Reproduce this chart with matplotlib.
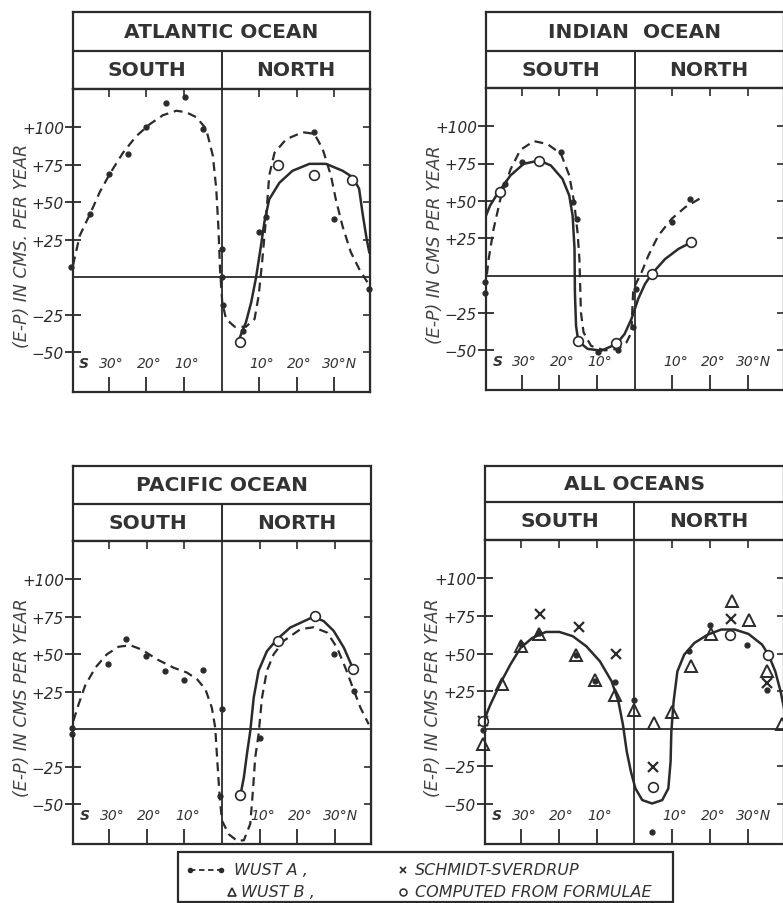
import matplotlib.pyplot as plt
from matplotlib.lines import Line2D
from matplotlib.patches import Rectangle

plt.rcParams['font.family'] = ['DejaVu Sans']

# ---- data (latitude: south negative, E-P in cm/yr) ----
# Atlantic
atl_a_curve_lat = [-39.5, -37.7, -35, -32.4, -29.7, -26.2, -22.7, -19.1, -15.6, -12, -9.4,
                   -6.7, -4.1, -2.3, -1.4, -0.8, -0.4, 0.2, 1.2, 3.5, 6.5, 8.8, 9.9, 10.8,
                   11.9, 12.7, 14.1, 17.2, 21.6, 24.7, 26.9, 29.1, 30.4, 32.2, 34.4, 36.6, 38.8]
atl_a_curve_val = [8, 27.8, 42, 56.7, 69, 83, 94, 102, 108, 111, 110,
                   106.7, 99, 81, 59, 32, 5.6, -16.7, -27.8, -33, -33, -27.8, -12, 10,
                   41, 68, 83, 92, 96.7, 95.6, 85.6, 67.8, 52, 34, 16.7, 5.6, -3.3]
atl_a_pts_lat = [-39.9, -34.9, -29.9, -24.9, -20, -14.7, -9.8, -5, 0, 0, 0.35, 5.7, 10,
                 11.9, 24.7, 30, 39.3]
atl_a_pts_val = [6.7, 42, 69, 82, 100, 116, 120, 99, 19, 0, -18.4, -35.6, 30,
                 40, 96.7, 39, -8]
atl_c_curve_lat = [4.9, 6.5, 7.9, 9.2, 10.5, 11.4, 12.7, 15.4, 18.9, 23.4, 27.8, 32.2,
                   34.9, 36.6, 37.5, 38.6, 39.3]
atl_c_curve_val = [-40, -30, -16.7, 0, 21, 36.7, 52, 63, 71, 75.6, 75.6, 71,
                   66.7, 59, 43, 25.6, 16.7]
atl_c_pts_lat = [5, 15, 24.7, 34.7]
atl_c_pts_val = [-43.3, 75, 68, 65]

# Indian
ind_a_curve_lat = [-39.7, -38.8, -37.5, -35.7, -33, -30.4, -26.8, -23.2, -19.6, -17.4, -16.1,
                   -15.2, -14.7, -14.5, -14.3, -13.6, -11.6, -8, -4.5, -2.2, -0.9, -0.7,
                   -0.4, 1.8, 3.6, 6.25, 9.8, 13.4, 17.9]
ind_a_curve_val = [-9, 11, 31, 51, 71, 84, 90, 88, 81.5, 67, 49,
                   29, 11, -6.7, -24.6, -38, -47, -50, -49, -44.6, -38, -25,
                   -9, 2.2, 13.4, 26.8, 38, 45.8, 52.5]
ind_a_pts_lat = [-39.7, -39.7, -34.4, -29.9, -19.6, -16.3, -15.4, -9.8, -4.5, -0.6, 0.4,
                 9.8, 14.7]
ind_a_pts_val = [-11.6, -4.5, 61, 76, 82.6, 49, 38, -51, -50, -34.6, -9, 35.7, 51]
ind_c_curve_lat = [-40.2, -38.4, -36.2, -33, -29.5, -25.4, -22.3, -19.2, -17.4, -16.5, -16,
                   -15.9, -15.6, -15, -12.5, -8.9, -4.9, -2.7, -0.9, 0.9, 2.7, 4.5, 8,
                   11.6, 15]
ind_c_curve_val = [35.7, 47, 55.8, 67, 74.8, 77, 73.7, 64.7, 53.6, 40, 17.9,
                   -11, -33.5, -44, -49, -50.2, -45.8, -39, -29, -15.6, -5.6, 1.1, 11,
                   17.9, 22.3]
ind_c_pts_lat = [-35.7, -25.4, -15, -4.9, 4.5, 15]
ind_c_pts_val = [56, 77, -44, -45, 1.1, 22.3]

# Pacific
pac_a_curve_lat = [-39.4, -38, -36.3, -33.6, -30.5, -27.4, -24.3, -21.2, -17.3, -12.8, -9.3,
                   -6.6, -4.4, -2.7, -1.8, -1.3, -0.6, 0, 1.8, 4, 5.8, 7.5, 8.2, 8.8, 9.7,
                   10.6, 11.9, 13.7, 16.4, 20.8, 24.3, 27.9, 30.5, 32.7, 35, 36.7, 38.9]
pac_a_curve_val = [5.6, 16.7, 29, 41, 50, 55, 56, 53, 46.7, 41, 37.8,
                   33.3, 26.7, 14.4, 1.1, -19, -45.6, -61, -70, -74.4, -74, -63, -41, -19, -3.3,
                   21, 39, 50, 59, 66.7, 68, 64.4, 54.4, 41, 25.6, 14.4, 3.3]
pac_a_pts_lat = [-39.8, -39.8, -30.1, -25.4, -20.1, -15.2, -10.2, -5, 0, -0.6, 10.2,
                 29.6, 35]
pac_a_pts_val = [1.1, -3.3, 43.8, 60.4, 48.9, 38.9, 32.7, 39.3, 13.3, -44.4, -5.6,
                 50, 25.6]
pac_c_curve_lat = [4.9, 5.8, 6.6, 7.5, 8.4, 9.7, 11.9, 14.6, 18.1, 21.7, 24.3, 27, 29.6,
                   32.3, 34.8]
pac_c_curve_val = [-43.8, -32, -16.7, -1.1, 21, 39, 52, 60, 67.8, 72, 75, 72, 65.6,
                   54.4, 40]
pac_c_pts_lat = [4.9, 14.8, 24.6, 34.8]
pac_c_pts_val = [-43.8, 59, 75.6, 40]

# All oceans
all_c_curve_lat = [-39.9, -38.1, -35.4, -32.8, -30.1, -27, -23.4, -19.8, -16.3, -12.7, -9.1,
                   -6, -4.2, -3, -2, -0.9, 0.3, 2.1, 4.7, 7.4, 9, 9.6, 9.8, 10.4, 11.4,
                   13.2, 15.9, 19.5, 23, 26.6, 30.2, 33.8, 35.5, 37.3, 38.7, 39.6]
all_c_curve_val = [4.9, 16, 30.4, 42.7, 53.8, 60.4, 64.4, 64.4, 61.6, 54.9, 44.9,
                   31.6, 18.2, 2.7, -15, -28.4, -39.6, -47.3, -49.6, -47.3, -39.6, -21.8, -1.8,
                   18.2, 38.2, 49.3, 57.1, 62.7, 66, 66, 63.1, 56, 49.3, 38.2, 24.9, 13.8]
all_a_pts_lat = [-40, -30.1, -25.2, -15.4, -10.4, -5.1, 0, 4.7, 14.6, 19.9, 29.9, 35.1]
all_a_pts_val = [-1, 56.4, 64, 49, 32, 31, 19.3, -68.4, 51.6, 69.3, 56, 26]
all_b_pts_lat = [-39.9, -35, -30.1, -25.2, -15.4, -10.4, -5.1, -0.2, 5.2, 10.1, 15, 20.2,
                 25.9, 30.4, 35.1, 39.1]
all_b_pts_val = [-10.2, 29.8, 55.3, 63.1, 48.9, 32.7, 22.7, 12.7, 3.8, 11.1, 41.6, 63.1,
                 84.9, 72.2, 38.2, 3.1]
all_s_pts_lat = [-39.9, -25, -14.7, -4.8, 5, 25.5, 35.1]
all_s_pts_val = [5.3, 76.4, 67.6, 50, -25.6, 72.7, 30.4]
all_c_pts_lat = [-40, 4.9, 25.3, 35.4]
all_c_pts_val = [5.3, -38.4, 62.7, 49.3]

ytick_vals = [-50, -25, 25, 50, 75, 100]
ytick_labels = ['\u221250', '\u221225', '+25', '+50', '+75', '+100']
xtick_vals = [-30, -20, -10, 10, 20, 30]

INK = '#2b2b2b'
W, H = 783, 904
fig = plt.figure(figsize=(W / 100, H / 100), dpi=100)
fig.patch.set_facecolor('white')


def fx(px):
    return px / W


def fy(py):
    return 1 - py / H


def panel(left, right, top, sep, ptop, pbot, title, ylabel, ylab_x):
    hd = fig.add_axes([fx(left), fy(ptop), fx(right) - fx(left), fy(top) - fy(ptop)])
    hd.set_xlim(0, 1)
    hd.set_ylim(0, 1)
    hd.set_xticks([])
    hd.set_yticks([])
    for s in hd.spines.values():
        s.set_linewidth(1.6)
        s.set_color(INK)
    ysep = (ptop - sep) / (ptop - top)
    hd.axhline(ysep, color=INK, lw=1.6)
    hd.plot([0.5, 0.5], [0, ysep], color=INK, lw=1.4)
    hd.text(0.5, (1 + ysep) / 2, title, ha='center', va='center', fontsize=14.5,
            fontweight='bold', color='#333333')
    hd.text(0.25, ysep / 2, 'SOUTH', ha='center', va='center', fontsize=14.5,
            fontweight='bold', color='#333333')
    hd.text(0.75, ysep / 2, 'NORTH', ha='center', va='center', fontsize=14.5,
            fontweight='bold', color='#333333')

    ax = fig.add_axes([fx(left), fy(pbot), fx(right) - fx(left), fy(ptop) - fy(pbot)])
    ax.set_xlim(-39.5, 39.5)
    ax.set_ylim(-76.5, 125.5)
    for s in ax.spines.values():
        s.set_linewidth(1.6)
        s.set_color(INK)
    ax.axhline(0, color=INK, lw=1.3)
    ax.axvline(0, color=INK, lw=1.3)
    ax.set_yticks(ytick_vals)
    ax.set_yticklabels(ytick_labels, fontsize=11, style='italic', color='#333333')
    ax.set_xticks(xtick_vals)
    ax.set_xticklabels([])
    ax.tick_params(axis='y', direction='inout', length=11, width=1.3, colors=INK, pad=1)
    ax.tick_params(axis='x', direction='in', length=11, width=1.3, colors=INK)
    top_ax = ax.secondary_xaxis('top')
    top_ax.set_xticks(xtick_vals)
    top_ax.tick_params(direction='in', length=6, width=1.2, labeltop=False, colors=INK)
    right_ax = ax.secondary_yaxis('right')
    right_ax.set_yticks(ytick_vals)
    right_ax.tick_params(direction='in', length=5, width=1.2, labelright=False, colors=INK)

    lab_kw = dict(fontsize=10, style='italic', va='center', color='#333333')
    ax.text(-36.5, -57, 'S', fontweight='bold', ha='center', **lab_kw)
    for v, t in zip([-30, -20, -10, 10, 20], ['30\u00b0', '20\u00b0', '10\u00b0', '10\u00b0', '20\u00b0']):
        ax.text(v + 0.8, -57, t, ha='center', **lab_kw)
    ax.text(31.5, -57, '30\u00b0N', ha='center', **lab_kw)

    fig.text(fx(ylab_x), (fy(ptop) + fy(pbot)) / 2 - 0.005, ylabel, rotation=90,
             ha='center', va='center', fontsize=12.5, style='italic', color='#444444')
    return ax


dash = dict(color=INK, lw=1.6, ls=(0, (4, 2.6)))
solid = dict(color=INK, lw=1.8, ls='-')
dot = dict(ls='none', marker='o', ms=3.5, color=INK)
ring = dict(ls='none', marker='o', ms=7, mfc='white', mec=INK, mew=1.2)
tri = dict(ls='none', marker='^', ms=9, mfc='none', mec=INK, mew=1.4)
cross = dict(ls='none', marker='x', ms=6.5, color=INK, mew=1.6)

ax1 = panel(73, 370, 13, 52, 90, 393, 'ATLANTIC OCEAN', '(E-P) IN CMS. PER YEAR', 22)
ax1.plot(atl_a_curve_lat, atl_a_curve_val, **dash)
ax1.plot(atl_c_curve_lat, atl_c_curve_val, **solid)
ax1.plot(atl_a_pts_lat, atl_a_pts_val, clip_on=False, **dot)
ax1.plot(atl_c_pts_lat, atl_c_pts_val, **ring)

ax2 = panel(486, 783.6, 13, 52, 89, 391, 'INDIAN  OCEAN', '(E-P) IN CMS PER YEAR', 435)
ax2.plot(ind_a_curve_lat, ind_a_curve_val, **dash)
ax2.plot(ind_c_curve_lat, ind_c_curve_val, **solid)
ax2.plot(ind_a_pts_lat, ind_a_pts_val, clip_on=False, **dot)
ax2.plot(ind_c_pts_lat, ind_c_pts_val, **ring)

ax3 = panel(73, 371, 467, 505, 542, 845, 'PACIFIC OCEAN', '(E-P) IN CMS PER YEAR', 22)
ax3.plot(pac_a_curve_lat, pac_a_curve_val, **dash)
ax3.plot(pac_c_curve_lat, pac_c_curve_val, **solid)
ax3.plot(pac_a_pts_lat, pac_a_pts_val, clip_on=False, **dot)
ax3.plot(pac_c_pts_lat, pac_c_pts_val, **ring)

ax4 = panel(485, 783.6, 467, 503, 541, 845, 'ALL OCEANS', '(E-P) IN CMS PER YEAR', 433)
ax4.plot(all_c_curve_lat, all_c_curve_val, **solid)
ax4.plot(all_a_pts_lat, all_a_pts_val, clip_on=False, **dot)
ax4.plot(all_b_pts_lat, all_b_pts_val, clip_on=False, **tri)
ax4.plot(all_s_pts_lat, all_s_pts_val, clip_on=False, **cross)
ax4.plot(all_c_pts_lat, all_c_pts_val, clip_on=False, **ring)

# ---- legend box ----
fig.add_artist(Rectangle((fx(178), fy(903)), fx(673) - fx(178), fy(853) - fy(903),
                         transform=fig.transFigure, fill=False, lw=1.6, ec=INK))
leg_kw = dict(fontsize=11.5, style='italic', va='center', ha='left', color='#333333')
y1, y2 = 871, 893
fig.add_artist(Line2D([fx(190), fx(221)], [fy(y1), fy(y1)], transform=fig.transFigure,
                      color=INK, lw=1.3, ls=(0, (3, 2)), marker='o', ms=3, markevery=[0, 1]))
fig.text(fx(234), fy(y1), 'WUST A ,', **leg_kw)
fig.add_artist(Line2D([fx(232)], [fy(y2)], transform=fig.transFigure, ls='none',
                      marker='^', ms=6, mfc='none', mec=INK, mew=1.2))
fig.text(fx(241), fy(y2), 'WUST B ,', **leg_kw)
fig.add_artist(Line2D([fx(403)], [fy(y1)], transform=fig.transFigure, ls='none',
                      marker='x', ms=5, color=INK, mew=1.2))
fig.text(fx(415), fy(y1), 'SCHMIDT-SVERDRUP', **leg_kw)
fig.add_artist(Line2D([fx(403)], [fy(y2)], transform=fig.transFigure, ls='none',
                      marker='o', ms=5, mfc='white', mec=INK, mew=1.1))
fig.text(fx(415), fy(y2), 'COMPUTED FROM FORMULAE', **leg_kw)

fig.savefig('out.png', dpi=100)
